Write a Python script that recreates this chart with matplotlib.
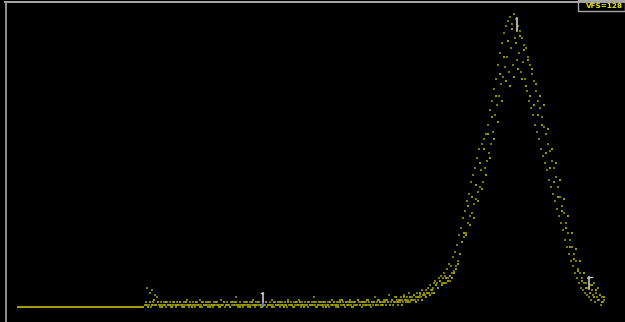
import matplotlib
matplotlib.use('Agg')
import matplotlib.pyplot as plt
import numpy as np
from matplotlib.lines import Line2D
from matplotlib.patches import Rectangle

# MCA-style spectrum display, full scale 128 counts
VFS = 128
BG = 'black'
C_DOT = '#7c7c00'
C_DOT2 = '#9a9a08'
C_FLAT = '#a49c00'
C_FRAME = '#a8a8a8'
C_CURSOR = '#c8c8c8'

# channels below the lower level discriminator (zero counts)
flat_start, flat_end = 17, 144

# sweep A: one reading per channel starting at 145
counts_a = [
    1, 2, 8, 1, 1, 6, 0, 7, 2, 1, 5, 1, 4, 2, 1, 0, 2, 1, 1, 2,
    1, 0, 2, 1, 1, 2, 0, 1, 2, 1, 1, 0, 2, 1, 1, 2, 1, 0, 1, 2,
    1, 1, 3, 1, 0, 2, 1, 1, 2, 1, 0, 1, 2, 1, 1, 3, 1, 0, 2, 1,
    1, 2, 1, 0, 1, 2, 1, 1, 0, 2, 1, 1, 2, 1, 0, 1, 3, 1, 1, 2,
    0, 1, 2, 1, 1, 0, 2, 1, 1, 2, 1, 4, 1, 0, 1, 2, 1, 1, 0, 2,
    1, 1, 2, 0, 1, 2, 1, 1, 3, 1, 0, 2, 1, 1, 2, 1, 0, 1, 2, 1,
    1, 2, 0, 1, 1, 2, 1, 3, 1, 0, 2, 1, 1, 2, 1, 0, 1, 2, 1, 1,
    2, 1, 0, 3, 1, 1, 2, 1, 0, 2, 1, 1, 2, 1, 3, 1, 0, 2, 1, 1,
    2, 1, 1, 0, 2, 1, 1, 2, 1, 4, 1, 2, 0, 1, 2, 1, 1, 2, 0, 1,
    2, 1, 1, 2, 0, 2, 1, 3, 1, 2, 1, 0, 2, 1, 2, 3, 1, 1, 2, 1,
    0, 2, 1, 2, 1, 3, 1, 2, 0, 1, 2, 1, 1, 3, 2, 1, 2, 0, 1, 2,
    1, 2, 3, 1, 2, 1, 0, 2, 1, 2, 4, 1, 2, 1, 3, 2, 1, 2, 1, 3,
    2, 1, 3, 2, 5, 1, 2, 3, 1, 2, 4, 2, 3, 1, 3, 2, 4, 3, 2, 5,
    3, 2, 4, 3, 6, 2, 3, 4, 3, 5, 3, 4, 6, 3, 4, 5, 4, 7, 5, 6,
    5, 7, 6, 8, 6, 9, 7, 6, 8, 10, 11, 9, 10, 8, 12, 11, 13, 10, 12, 14,
    13, 10, 16, 12, 18, 11, 17, 14, 21, 15, 23, 17, 26, 19, 30, 22, 33, 27, 37, 29,
    40, 31, 44, 35, 47, 38, 52, 39, 55, 43, 58, 45, 62, 48, 66, 50, 57, 68, 52, 70,
    58, 72, 61, 76, 64, 82, 68, 86, 73, 91, 80, 95, 84, 101, 88, 106, 93, 110, 96, 114,
    100, 117, 104, 119, 98, 121, 108, 118, 101, 122, 112, 120, 103, 117, 106, 115, 98, 112, 102, 109,
    95, 108, 90, 104, 86, 101, 83, 97, 80, 94, 76, 90, 73, 86, 70, 83, 66, 79, 63, 75,
    60, 72, 57, 68, 53, 65, 50, 61, 47, 58, 44, 54, 41, 50, 38, 46, 35, 42, 32, 39,
    28, 35, 25, 31, 22, 28, 19, 25, 17, 22, 14, 19, 12, 16, 10, 14, 8, 12, 7, 10,
    6, 10, 5, 8, 4, 9, 3, 7, 5, 10, 2, 6, 4, 8, 3, 5, 1, 4, 2, 3,
]

# sweep B: every second channel starting at 146
counts_b = [
    1, 0, 2, 1, 3, 1, 2, 1, 0, 1, 2, 1, 1, 0, 2, 1, 1, 2, 1, 0,
    2, 1, 1, 0, 1, 2, 1, 0, 2, 1, 1, 2, 0, 1, 1, 2, 1, 0, 1, 2,
    1, 1, 0, 2, 1, 2, 1, 0, 1, 1, 2, 1, 0, 2, 1, 1, 2, 1, 0, 1,
    2, 1, 1, 0, 2, 1, 1, 2, 1, 0, 1, 2, 1, 1, 0, 2, 1, 2, 1, 0,
    1, 2, 1, 1, 2, 0, 1, 2, 1, 2, 0, 1, 2, 1, 2, 1, 0, 2, 3, 1,
    2, 1, 2, 0, 2, 1, 3, 1, 2, 2, 1, 3, 1, 2, 2, 1, 3, 2, 1, 2,
    3, 2, 1, 3, 2, 4, 2, 3, 1, 4, 3, 2, 4, 3, 5, 2, 4, 6, 3, 5,
    4, 6, 5, 7, 6, 9, 8, 11, 9, 10, 12, 11, 13, 12, 14, 16, 18, 22, 27, 31,
    30, 42, 34, 46, 37, 51, 44, 60, 49, 66, 55, 72, 62, 79, 70, 88, 77, 97, 86, 104,
    94, 111, 92, 116, 96, 110, 99, 113, 95, 107, 92, 103, 88, 99, 84, 93, 80, 88, 76, 84,
    64, 74, 58, 66, 52, 60, 46, 53, 40, 45, 33, 38, 25, 31, 20, 24, 15, 19, 11, 14,
    8, 12, 6, 9, 4, 7, 3, 5, 2, 4,
]

# cursor markers: (channel, low count, high count, tick direction)
cursors = [
    (263, 0.5, 5.8, -1),
    (517, 115.0, 120.4, 0),
    (589, 7.5, 12.5, 1),
]

ch_a = np.arange(145, 145 + len(counts_a))
ch_b = np.arange(146, 146 + 2 * len(counts_b), 2)
flat_ch = np.arange(flat_start, flat_end + 1)
flat_counts = np.zeros(len(flat_ch))

fig = plt.figure(figsize=(6.25, 3.22), dpi=100)
fig.patch.set_facecolor(BG)
ax = fig.add_axes([0, 0, 1, 1])
ax.set_facecolor(BG)
ax.set_xlim(0, 625)
ax.set_ylim(-15 / 2.4, 307 / 2.4)
ax.axis('off')

ax.plot(flat_ch, flat_counts, color=C_FLAT, lw=1.5, solid_capstyle='butt')
ax.scatter(ch_a, counts_a, s=1.4, marker='s', color=C_DOT, linewidths=0)
ax.scatter(ch_b, counts_b, s=1.4, marker='s', color=C_DOT2, linewidths=0)

for ch, lo, hi, tick in cursors:
    ax.plot([ch, ch], [lo, hi], color=C_CURSOR, lw=1.2)
    if tick:
        ax.plot([ch, ch + 2.5 * tick], [hi, hi], color=C_CURSOR, lw=1.0)
# blue foot on the first cursor
ax.plot([263, 263], [0.5, 1.6], color='#4a6cff', lw=1.2)

# screen frame: top and left edges
fig.add_artist(Line2D([5 / 625, 1], [1 - 1.5 / 322] * 2, transform=fig.transFigure,
                      color=C_FRAME, lw=1.4))
fig.add_artist(Line2D([5.7 / 625] * 2, [0, 1 - 1.5 / 322], transform=fig.transFigure,
                      color=C_FRAME, lw=1.2))

# full-scale readout box
fig.add_artist(Rectangle((578 / 625, 1 - 11 / 322), 47 / 625, 11 / 322,
                         transform=fig.transFigure, facecolor=BG,
                         edgecolor=C_FRAME, lw=1.0))
fig.text(623 / 625, 1 - 6 / 322, f'VFS={VFS}', color='#e6e600', fontsize=5.2,
         fontweight='bold', ha='right', va='center')

fig.savefig('out.png', dpi=100, facecolor=BG)
